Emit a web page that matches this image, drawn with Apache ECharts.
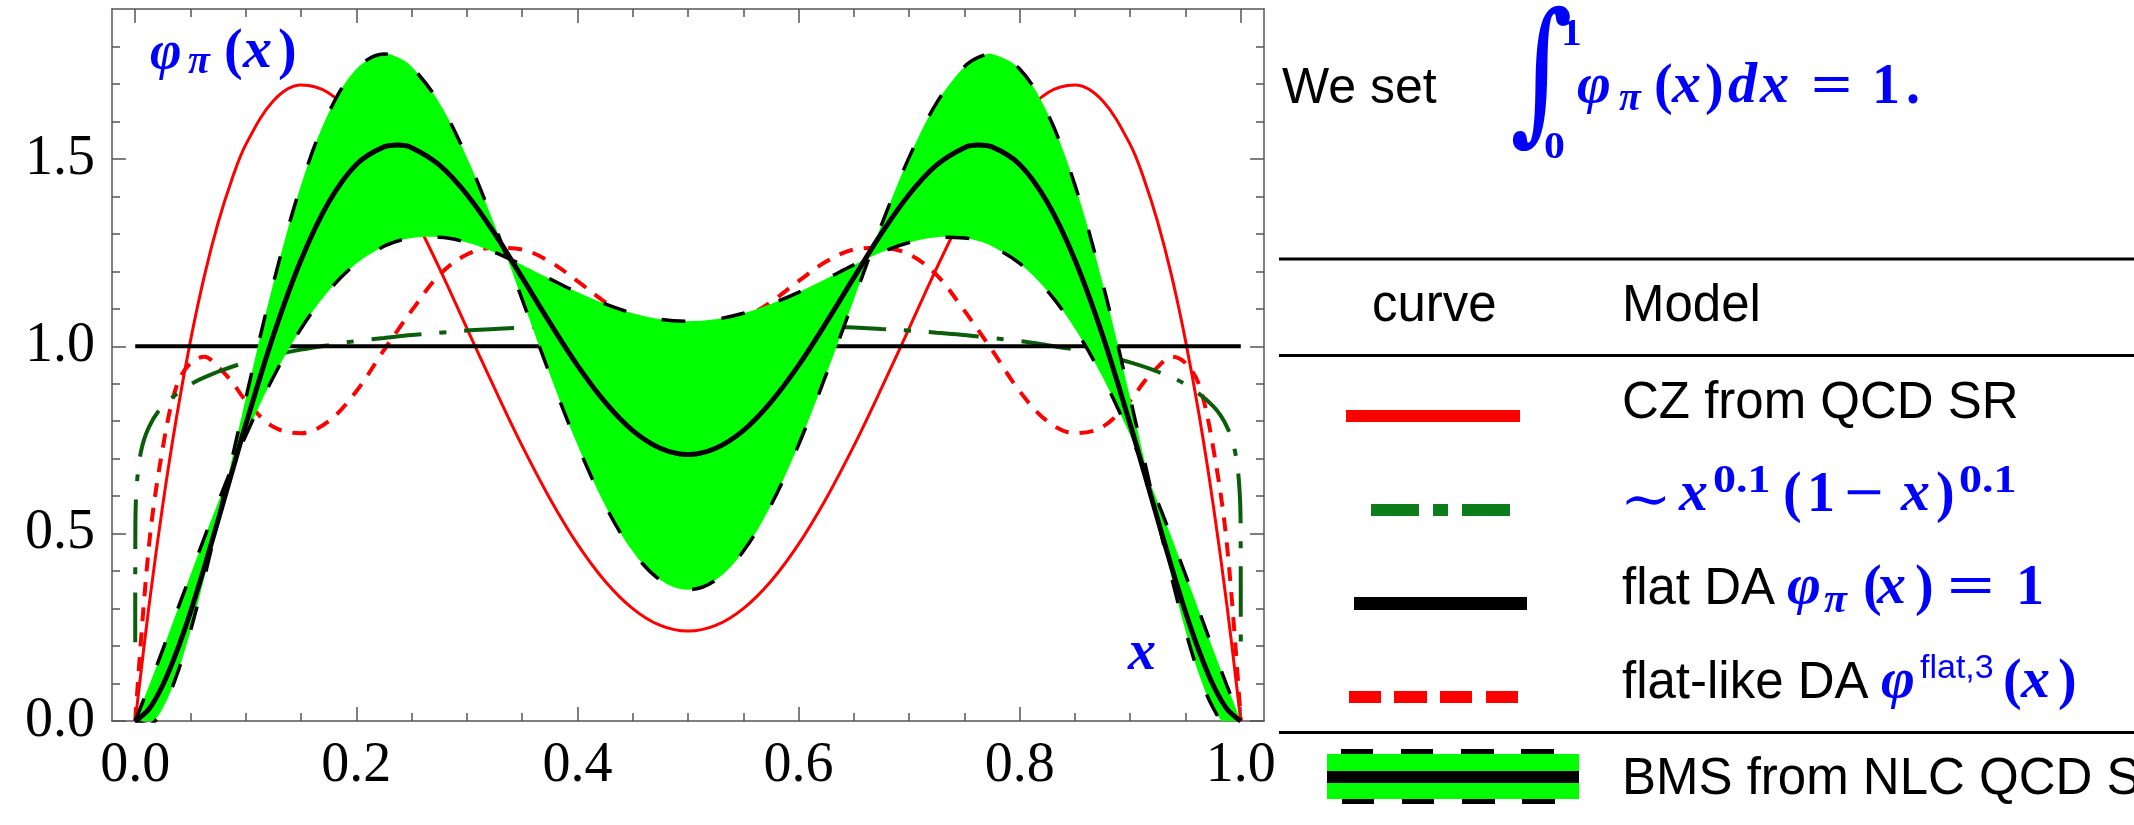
<!DOCTYPE html>
<html>
<head>
<meta charset="utf-8">
<script src="https://cdn.jsdelivr.net/npm/echarts@6/dist/echarts.min.js"></script>
<style>
  html, body { margin: 0; padding: 0; background: #fff; }
  #chart { width: 2134px; height: 825px; }
</style>
</head>
<body>
<div id="chart"></div>
<script>
// Momentum fraction grid shared by the Gegenbauer-type distribution amplitudes
const xGrid = [0, 0.0125, 0.025, 0.0375, 0.05, 0.0625, 0.075, 0.0875, 0.1, 0.125, 0.15, 0.175, 0.2, 0.225, 0.2375, 0.25,
  0.275, 0.3, 0.325, 0.35, 0.375, 0.4, 0.425, 0.45, 0.475, 0.5,
  0.525, 0.55, 0.575, 0.6, 0.625, 0.65, 0.675, 0.7, 0.725, 0.75, 0.7625, 0.775, 0.8, 0.825, 0.85, 0.875,
  0.9, 0.9125, 0.925, 0.9375, 0.95, 0.9625, 0.975, 0.9875, 1];

// Chernyak-Zhitnitsky DA from QCD sum rules
const czValues = [0, 0.308, 0.578, 0.813, 1.015, 1.187, 1.330, 1.446, 1.538, 1.655, 1.697, 1.676, 1.605, 1.497, 1.432, 1.361,
  1.209, 1.048, 0.888, 0.734, 0.594, 0.472, 0.373, 0.300, 0.255, 0.240,
  0.255, 0.300, 0.373, 0.472, 0.594, 0.734, 0.888, 1.048, 1.209, 1.361, 1.432, 1.497, 1.605, 1.676, 1.697, 1.655,
  1.538, 1.446, 1.330, 1.187, 1.015, 0.813, 0.578, 0.308, 0];

// BMS central curve from nonlocal-condensate QCD sum rules
const bmsValues = [0, 0.032, 0.096, 0.185, 0.291, 0.410, 0.536, 0.664, 0.791, 1.029, 1.230, 1.384, 1.485, 1.532, 1.537, 1.530,
  1.484, 1.405, 1.301, 1.183, 1.063, 0.949, 0.851, 0.775, 0.728, 0.711,
  0.728, 0.775, 0.851, 0.949, 1.063, 1.183, 1.301, 1.405, 1.484, 1.530, 1.537, 1.532, 1.485, 1.384, 1.230, 1.029,
  0.791, 0.664, 0.536, 0.410, 0.291, 0.185, 0.096, 0.032, 0];

// BMS bunch boundaries (the two dashed edges of the band)
const bmsEdgeA = [0, -0.010, 0.035, 0.122, 0.241, 0.382, 0.537, 0.699, 0.861, 1.169, 1.430, 1.623, 1.740, 1.780, 1.771, 1.746,
  1.650, 1.504, 1.324, 1.125, 0.925, 0.737, 0.576, 0.453, 0.376, 0.350,
  0.376, 0.453, 0.576, 0.737, 0.925, 1.125, 1.324, 1.504, 1.650, 1.746, 1.771, 1.780, 1.740, 1.623, 1.430, 1.169,
  0.861, 0.699, 0.537, 0.382, 0.241, 0.122, 0.035, -0.010, 0];
const bmsEdgeB = [0, 0.094, 0.191, 0.291, 0.390, 0.489, 0.584, 0.676, 0.762, 0.918, 1.047, 1.148, 1.221, 1.267, 1.281, 1.289,
  1.291, 1.277, 1.251, 1.217, 1.180, 1.144, 1.113, 1.088, 1.072, 1.067,
  1.072, 1.088, 1.113, 1.144, 1.180, 1.217, 1.251, 1.277, 1.291, 1.289, 1.281, 1.267, 1.221, 1.148, 1.047, 0.918,
  0.762, 0.676, 0.584, 0.489, 0.390, 0.291, 0.191, 0.094, 0];

// flat-like DA phi^{flat,3}
const flatLikeValues = [0, 0.47, 0.73, 0.895, 0.955, 0.972, 0.945, 0.905, 0.855, 0.785, 0.768, 0.80, 0.88, 0.99, 1.043, 1.095,
  1.19, 1.245, 1.263, 1.258, 1.226, 1.174, 1.118, 1.075, 1.05, 1.04,
  1.05, 1.075, 1.118, 1.174, 1.226, 1.258, 1.263, 1.245, 1.19, 1.095, 1.043, 0.99, 0.88, 0.80, 0.768, 0.785,
  0.855, 0.905, 0.945, 0.972, 0.955, 0.895, 0.73, 0.47, 0];

// ~ x^0.1 (1-x)^0.1, with extra points near the end-points where it rises steeply
const xPower = [0, 0.0001, 0.001, 0.005, 0.0125, 0.025, 0.05, 0.075, 0.1, 0.125, 0.15, 0.175, 0.2, 0.225, 0.25,
  0.275, 0.3, 0.325, 0.35, 0.375, 0.4, 0.425, 0.45, 0.475, 0.5, 0.525, 0.55, 0.575, 0.6, 0.625, 0.65, 0.675,
  0.7, 0.725, 0.75, 0.775, 0.8, 0.825, 0.85, 0.875, 0.9, 0.925, 0.95, 0.975, 0.9875, 0.995, 0.999, 0.9999, 1];
const powerValues = [0.21, 0.485, 0.610, 0.716, 0.785, 0.840, 0.898, 0.932, 0.957, 0.976, 0.991, 1.003, 1.014, 1.022, 1.030,
  1.036, 1.042, 1.046, 1.050, 1.053, 1.056, 1.058, 1.059, 1.060, 1.060, 1.060, 1.059, 1.058, 1.056, 1.053, 1.050,
  1.046, 1.042, 1.036, 1.030, 1.022, 1.014, 1.003, 0.991, 0.976, 0.957, 0.932, 0.898, 0.840, 0.785, 0.716, 0.610, 0.485, 0.21];

// flat DA
const xFlat = [0, 1];
const flatValues = [1, 1];

// ticks
const xMajorTicks = [0, 0.2, 0.4, 0.6, 0.8, 1.0];
const xMinorTicks = [0.05, 0.1, 0.15, 0.25, 0.3, 0.35, 0.45, 0.5, 0.55, 0.65, 0.7, 0.75, 0.85, 0.9, 0.95];
const yMajorTicks = [0, 0.5, 1.0, 1.5];
const yMinorTicks = [0.1, 0.2, 0.3, 0.4, 0.6, 0.7, 0.8, 0.9, 1.1, 1.2, 1.3, 1.4, 1.6, 1.7, 1.8];

const pairs = (xs, ys) => xs.map((x, i) => [x, ys[i]]);

const FRAME = '#555555';
const BLUE = '#0000ff';
const RED = '#ff0000';
const BAND = '#00ff00';
const DARKGREEN = '#0a5e0a';
const SANS = "'Liberation Sans', Arial, sans-serif";
const SERIF = "'Liberation Serif', 'Times New Roman', serif";
const DEJAVU = "'DejaVu Serif', serif";
const SMOOTH = 0.35;

function xAxisDef(position, ticks, len, withLine, withLabels) {
  return {
    type: 'value', gridIndex: 0, position: position, min: -0.021, max: 1.021,
    axisLine: { show: withLine, onZero: false, lineStyle: { color: FRAME, width: 1.5 } },
    axisTick: { show: true, inside: true, length: len, customValues: ticks, lineStyle: { color: FRAME, width: 1.5 } },
    axisLabel: withLabels ? {
      show: true, customValues: ticks, formatter: v => v.toFixed(1), margin: 17,
      color: '#000', fontFamily: SERIF, fontSize: 56
    } : { show: false },
    splitLine: { show: false }
  };
}
function yAxisDef(position, ticks, len, withLine, withLabels) {
  return {
    type: 'value', gridIndex: 0, position: position, min: 0, max: 1.9,
    axisLine: { show: withLine, onZero: false, lineStyle: { color: FRAME, width: 1.5 } },
    axisTick: { show: true, inside: true, length: len, customValues: ticks, lineStyle: { color: FRAME, width: 1.5 } },
    axisLabel: withLabels ? {
      show: true, customValues: ticks, formatter: v => v.toFixed(1), margin: 17,
      color: '#000', fontFamily: SERIF, fontSize: 56
    } : { show: false },
    splitLine: { show: false }
  };
}

function lineSeries(name, xs, ys, color, width, dash, z) {
  return {
    name: name, type: 'line', xAxisIndex: 0, yAxisIndex: 0,
    data: pairs(xs, ys), smooth: SMOOTH, showSymbol: false, symbol: 'none',
    clip: true, silent: true, z: z,
    lineStyle: { color: color, width: width, type: dash || 'solid', cap: 'butt' }
  };
}

// text placed by its alphabetic baseline
function txt(str, x, baseline, size, o) {
  o = o || {};
  const fam = o.family || SANS;
  const k = (fam === SANS) ? 0.3465 : 0.3375;
  const font = (o.italic ? 'italic ' : '') + (o.bold ? 'bold ' : '') + size + 'px ' + fam;
  return {
    type: 'text', x: x, y: (o.mid !== undefined ? o.mid : baseline - k * size), z: o.z || 100, silent: true,
    scaleX: o.sx || 1, scaleY: o.sy || 1,
    style: {
      text: str, fill: o.color || '#000', font: font,
      align: 'left', verticalAlign: 'middle', textAlign: 'left', textVerticalAlign: 'middle'
    }
  };
}
const mi = { family: SERIF, italic: true, bold: true, color: BLUE };   // math italic
const mu = { family: SERIF, bold: true, color: BLUE };                 // math upright
const ext = (a, b) => Object.assign({}, a, b);

function rect(x, y, w, h, color) {
  return { type: 'rect', silent: true, z: 90, shape: { x: x, y: y, width: w, height: h }, style: { fill: color } };
}

const graphics = [
  // in-plot labels
  txt('\u03C6', 150, 72, 54, mi),
  txt('\u03C0', 188, 76, 40, mi),
  txt('(', 224, 72, 56, mu),
  txt('x', 243, 72, 58, mi),
  txt(')', 278, 72, 56, mu),
  txt('x', 1128, 673, 56, mi),

  // normalisation statement
  txt('We set', 1282, 107, 50),
  txt('\u222B', 1510, 0, 100, ext(mu, { family: DEJAVU, bold: false, mid: 83, sx: 1.2, sy: 1.55, z: 95 })),
  txt('1', 1561, 48, 38, ext(mu, { sx: 1.1 })),
  txt('0', 1544, 161, 38, ext(mu, { sx: 1.1 })),
  txt('\u03C6', 1577, 107, 58, mi),
  txt('\u03C0', 1619, 113, 40, mi),
  txt('(', 1654, 107, 56, mu),
  txt('x', 1672, 107, 58, mi),
  txt(')', 1705, 107, 56, mu),
  txt('d', 1728, 107, 58, mi),
  txt('x', 1760, 107, 58, mi),
  txt('=', 1811, 107, 56, ext(mu, { sx: 1.3 })),
  txt('1', 1872, 107, 56, mu),
  txt('.', 1906, 107, 56, mu),

  // table separators
  rect(1279, 257.5, 855, 3, '#000'),
  rect(1279, 354, 855, 3, '#000'),
  rect(1279, 731, 855, 3, '#000'),

  // table header
  txt('curve', 1372, 325, 51),
  txt('Model', 1622, 325, 51),

  // CZ row
  rect(1346, 410, 174, 12, RED),
  txt('CZ from QCD SR', 1622, 422, 51),

  // power-law row
  rect(1371, 504, 48, 12, '#0b7d1b'),
  rect(1433, 504, 15, 12, '#0b7d1b'),
  rect(1462, 504, 48, 12, '#0b7d1b'),
  txt('\u223C', 1620, 0, 56, ext(mu, { family: DEJAVU, bold: false, mid: 503, sx: 1.1 })),
  txt('x', 1679, 515, 58, mi),
  txt('0.1', 1713, 495, 40, ext(mu, { sx: 1.15 })),
  txt('(', 1783, 515, 56, mu),
  txt('1', 1807, 515, 56, mu),
  txt('\u2212', 1844, 515, 56, ext(mu, { sx: 1.25 })),
  txt('x', 1901, 515, 58, mi),
  txt(')', 1936, 515, 56, mu),
  txt('0.1', 1959, 495, 40, ext(mu, { sx: 1.15 })),

  // flat DA row
  rect(1354, 597, 173, 13, '#000'),
  txt('flat DA', 1622, 608, 51),
  txt('\u03C6', 1787, 608, 58, mi),
  txt('\u03C0', 1824, 615, 42, mi),
  txt('(', 1863, 608, 56, mu),
  txt('x', 1877, 608, 58, mi),
  txt(')', 1915, 608, 56, mu),
  txt('=', 1947, 608, 56, ext(mu, { sx: 1.5 })),
  txt('1', 2016, 608, 56, mu),

  // flat-like row
  rect(1349, 691, 32, 12, RED),
  rect(1394, 691, 33, 12, RED),
  rect(1440, 691, 32, 12, RED),
  rect(1486, 691, 32, 12, RED),
  txt('flat-like DA', 1622, 702, 51),
  txt('\u03C6', 1881, 702, 58, mi),
  txt('flat,3', 1920, 680, 34, { family: SANS, color: BLUE }),
  txt('(', 2003, 702, 56, mu),
  txt('x', 2021, 702, 58, mi),
  txt(')', 2058, 702, 56, mu),

  // BMS row
  rect(1327, 754, 252, 45, BAND),
  rect(1327, 771, 252, 12, '#000'),
  rect(1341, 749, 32, 5, '#000'), rect(1401, 749, 32, 5, '#000'),
  rect(1461, 749, 33, 5, '#000'), rect(1521, 749, 33, 5, '#000'),
  rect(1342, 799, 32, 5, '#000'), rect(1402, 799, 32, 5, '#000'),
  rect(1462, 799, 33, 5, '#000'), rect(1522, 799, 33, 5, '#000'),
  txt('BMS from NLC QCD SR', 1622, 798, 51)
];

const chart = echarts.init(document.getElementById('chart'), null, { renderer: 'canvas' });
chart.setOption({
  animation: false,
  backgroundColor: '#ffffff',
  grid: { left: 112, top: 9, width: 1152, height: 712, containLabel: false },
  xAxis: [
    xAxisDef('bottom', xMajorTicks, 14, true, true),
    xAxisDef('bottom', xMinorTicks, 8, false, false),
    xAxisDef('top', xMajorTicks, 14, true, false),
    xAxisDef('top', xMinorTicks, 8, false, false)
  ],
  yAxis: [
    yAxisDef('left', yMajorTicks, 14, true, true),
    yAxisDef('left', yMinorTicks, 8, false, false),
    yAxisDef('right', yMajorTicks, 14, true, false),
    yAxisDef('right', yMinorTicks, 8, false, false)
  ],
  series: [
    lineSeries('CZ', xGrid, czValues, RED, 3, 'solid', 2),
    lineSeries('flat-like', xGrid, flatLikeValues, RED, 4, [14, 11], 2),
    lineSeries('power', xPower, powerValues, DARKGREEN, 4, [50, 18, 7, 18], 2),
    lineSeries('flat', xFlat, flatValues, '#000', 4, 'solid', 2),
    {
      name: 'BMS band', type: 'custom', xAxisIndex: 0, yAxisIndex: 0, clip: true, silent: true, z: 3,
      data: [[0.5, 1]],
      renderItem: function (params, api) {
        const pts = [];
        for (let i = 0; i < xGrid.length; i++) pts.push(api.coord([xGrid[i], bmsEdgeA[i]]));
        for (let i = xGrid.length - 1; i >= 0; i--) pts.push(api.coord([xGrid[i], bmsEdgeB[i]]));
        return { type: 'polygon', shape: { points: pts, smooth: SMOOTH }, style: { fill: BAND, stroke: null } };
      }
    },
    lineSeries('BMS edge A', xGrid, bmsEdgeA, '#000', 3.5, [24, 36], 4),
    lineSeries('BMS edge B', xGrid, bmsEdgeB, '#000', 3.5, [24, 36], 4),
    lineSeries('BMS', xGrid, bmsValues, '#000', 5, 'solid', 5)
  ],
  graphic: graphics
});
</script>
</body>
</html>
